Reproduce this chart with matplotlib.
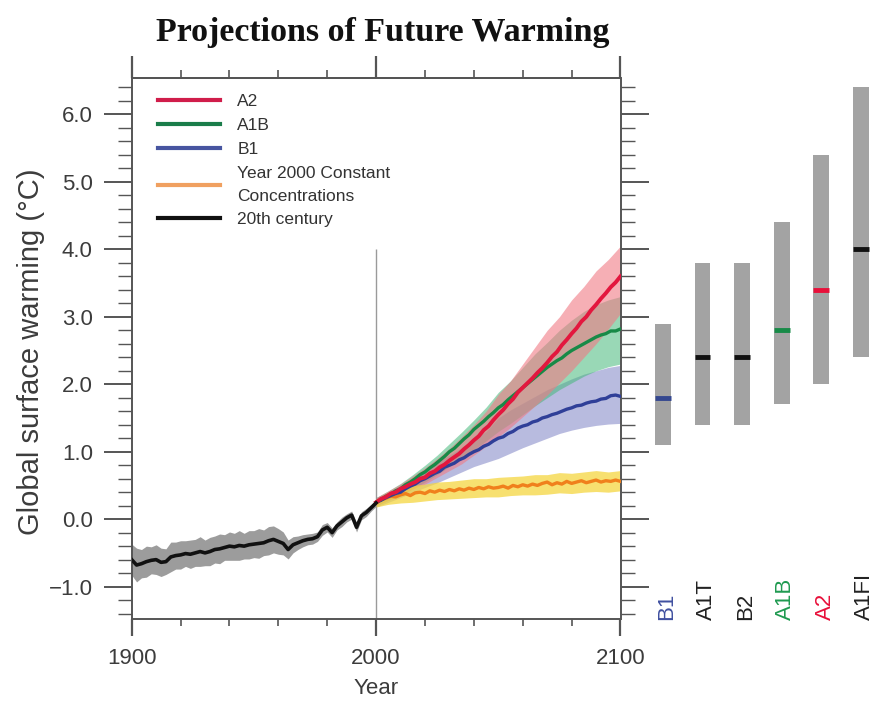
import numpy as np
import matplotlib
matplotlib.use("Agg")
import matplotlib.pyplot as plt
from matplotlib.lines import Line2D
from matplotlib.ticker import MultipleLocator, FuncFormatter

plt.rcParams['font.family'] = ['Liberation Sans', 'DejaVu Sans']

# ---------------- data ----------------
hist_years = list(range(1900, 2001, 2))
hist_mean = [-0.60, -0.68, -0.66, -0.63, -0.61, -0.60, -0.64, -0.63, -0.56, -0.54,
             -0.53, -0.51, -0.52, -0.50, -0.48, -0.50, -0.48, -0.45, -0.44, -0.42,
             -0.40, -0.41, -0.39, -0.40, -0.38, -0.37, -0.36, -0.35, -0.32, -0.30,
             -0.33, -0.36, -0.45, -0.38, -0.35, -0.32, -0.30, -0.29, -0.26, -0.16,
             -0.12, -0.20, -0.10, -0.04, 0.02, 0.06, -0.12, 0.05, 0.10, 0.17, 0.24]
hist_spread = [0.23, 0.25, 0.21, 0.23, 0.20, 0.22, 0.21, 0.19, 0.22, 0.20,
               0.21, 0.19, 0.21, 0.20, 0.22, 0.19, 0.21, 0.20, 0.22, 0.19,
               0.21, 0.20, 0.22, 0.19, 0.21, 0.20, 0.22, 0.19, 0.21, 0.20,
               0.19, 0.17, 0.14, 0.12, 0.10, 0.09, 0.08, 0.08, 0.07, 0.08,
               0.07, 0.07, 0.06, 0.07, 0.06, 0.06, 0.07, 0.06, 0.06, 0.05, 0.05]

fut_years = list(range(2000, 2101, 2))
a2_mean = [0.25, 0.30, 0.33, 0.38, 0.40, 0.45, 0.48, 0.52, 0.55, 0.60,
           0.62, 0.68, 0.71, 0.77, 0.81, 0.87, 0.92, 0.97, 1.04, 1.10,
           1.17, 1.23, 1.32, 1.38, 1.47, 1.55, 1.62, 1.71, 1.78, 1.88,
           1.95, 2.02, 2.09, 2.17, 2.24, 2.32, 2.41, 2.48, 2.58, 2.66,
           2.75, 2.83, 2.93, 3.00, 3.10, 3.18, 3.27, 3.35, 3.44, 3.51, 3.60]
a1b_mean = [0.25, 0.29, 0.34, 0.37, 0.42, 0.45, 0.51, 0.55, 0.60, 0.66,
            0.70, 0.76, 0.81, 0.87, 0.93, 1.00, 1.05, 1.12, 1.19, 1.25,
            1.33, 1.39, 1.45, 1.52, 1.58, 1.65, 1.70, 1.77, 1.83, 1.89,
            1.95, 2.01, 2.07, 2.13, 2.19, 2.25, 2.30, 2.35, 2.39, 2.45,
            2.50, 2.54, 2.58, 2.62, 2.66, 2.70, 2.73, 2.75, 2.79, 2.79, 2.82]
b1_mean = [0.25, 0.28, 0.32, 0.35, 0.38, 0.40, 0.45, 0.49, 0.52, 0.57,
           0.60, 0.64, 0.68, 0.71, 0.77, 0.80, 0.83, 0.88, 0.91, 0.96,
           1.00, 1.03, 1.08, 1.11, 1.16, 1.20, 1.22, 1.27, 1.30, 1.35,
           1.38, 1.40, 1.44, 1.46, 1.50, 1.52, 1.55, 1.57, 1.60, 1.63,
           1.65, 1.68, 1.69, 1.72, 1.74, 1.75, 1.78, 1.79, 1.83, 1.84, 1.82]
const_mean = [0.25, 0.29, 0.31, 0.34, 0.33, 0.36, 0.38, 0.35, 0.39, 0.40,
              0.38, 0.42, 0.40, 0.43, 0.41, 0.44, 0.42, 0.45, 0.43, 0.46,
              0.44, 0.47, 0.45, 0.48, 0.46, 0.47, 0.49, 0.46, 0.50, 0.48,
              0.51, 0.49, 0.52, 0.50, 0.53, 0.55, 0.51, 0.54, 0.52, 0.56,
              0.53, 0.55, 0.57, 0.54, 0.56, 0.58, 0.55, 0.57, 0.56, 0.58, 0.56]

band_years = list(range(2000, 2101, 5))
a2_lo = [0.20, 0.28, 0.35, 0.45, 0.52, 0.62, 0.72, 0.82, 0.95, 1.08, 1.22,
         1.36, 1.52, 1.68, 1.84, 2.02, 2.20, 2.40, 2.60, 2.82, 3.05]
a2_hi = [0.32, 0.42, 0.52, 0.64, 0.76, 0.90, 1.05, 1.22, 1.40, 1.60, 1.85,
         2.05, 2.30, 2.55, 2.80, 3.00, 3.25, 3.45, 3.68, 3.85, 4.05]
a1b_lo = [0.20, 0.28, 0.36, 0.45, 0.55, 0.66, 0.78, 0.90, 1.03, 1.16, 1.30,
          1.42, 1.55, 1.68, 1.80, 1.92, 2.02, 2.12, 2.20, 2.26, 2.30]
a1b_hi = [0.32, 0.42, 0.53, 0.66, 0.80, 0.95, 1.12, 1.29, 1.47, 1.66, 1.88,
          2.05, 2.25, 2.45, 2.62, 2.80, 2.95, 3.08, 3.18, 3.25, 3.30]
b1_lo = [0.18, 0.25, 0.32, 0.40, 0.47, 0.54, 0.62, 0.70, 0.78, 0.84, 0.90,
         0.98, 1.06, 1.13, 1.20, 1.27, 1.32, 1.36, 1.39, 1.41, 1.42]
b1_hi = [0.32, 0.40, 0.50, 0.60, 0.72, 0.84, 0.95, 1.06, 1.18, 1.30, 1.50,
         1.62, 1.72, 1.82, 1.92, 2.00, 2.08, 2.15, 2.20, 2.25, 2.28]
const_lo = [0.18, 0.22, 0.24, 0.25, 0.27, 0.29, 0.30, 0.31, 0.32, 0.33, 0.33,
            0.35, 0.36, 0.36, 0.37, 0.39, 0.38, 0.40, 0.41, 0.40, 0.42]
const_hi = [0.30, 0.40, 0.46, 0.50, 0.52, 0.55, 0.56, 0.58, 0.60, 0.60, 0.62,
            0.63, 0.64, 0.66, 0.66, 0.69, 0.68, 0.70, 0.72, 0.70, 0.72]

scenarios = ['B1', 'A1T', 'B2', 'A1B', 'A2', 'A1FI']
best_est = [1.8, 2.4, 2.4, 2.8, 3.4, 4.0]
likely_lo = [1.1, 1.4, 1.4, 1.7, 2.0, 2.4]
likely_hi = [2.9, 3.8, 3.8, 4.4, 5.4, 6.4]

legend_labels = ['A2', 'A1B', 'B1', 'Year 2000 Constant\nConcentrations', '20th century']

# ---------------- styles ----------------
c_red, c_green, c_blue, c_orange, c_black = '#e3173e', '#178a47', '#2f3f98', '#f0801c', '#111111'
f_red, f_green, f_blue, f_yellow = '#f07a85', '#45b97a', '#8a8ecb', '#f5d640'
scen_colors = ['#4050a0', '#222222', '#222222', '#1f9a50', '#e8103a', '#222222']
mark_colors = ['#34478f', '#111111', '#111111', '#178a47', '#e8103a', '#111111']
txt_col = '#3c3c3c'
spine_col = '#555555'

W, H = 874, 702
fig = plt.figure(figsize=(W / 100, H / 100), dpi=100)

ax_l, ax_r, ax_t, ax_b = 131.7, 620.5, 78, 619
ax = fig.add_axes([ax_l / W, 1 - ax_b / H, (ax_r - ax_l) / W, (ax_b - ax_t) / H])
ax.set_xlim(1900, 2100)
ax.set_ylim(-1.48, 6.54)

# historic band + line
hm = np.array(hist_mean)
hs = np.array(hist_spread)
ax.fill_between(hist_years, hm - hs, hm + hs, color='#9c9c9c', lw=0, zorder=1)

# future bands
ax.fill_between(band_years, b1_lo, b1_hi, color=f_blue, alpha=0.6, lw=0, zorder=2)
ax.fill_between(band_years, a1b_lo, a1b_hi, color=f_green, alpha=0.55, lw=0, zorder=2)
ax.fill_between(band_years, a2_lo, a2_hi, color=f_red, alpha=0.6, lw=0, zorder=2)
ax.fill_between(band_years, const_lo, const_hi, color=f_yellow, alpha=0.75, lw=0, zorder=2)

ax.vlines(2000, -1.48, 4.0, color='#9a9a9a', lw=1.0, zorder=1.5)

ax.plot(fut_years, const_mean, color=c_orange, lw=2.4, zorder=3)
ax.plot(fut_years, b1_mean, color=c_blue, lw=2.4, zorder=3)
ax.plot(fut_years, a1b_mean, color=c_green, lw=2.4, zorder=3)
ax.plot(fut_years, a2_mean, color=c_red, lw=2.8, zorder=4)
ax.plot(hist_years, hist_mean, color=c_black, lw=2.6, zorder=4)

# legend
handles = [Line2D([], [], color=c, lw=3) for c in ['#d01d4a', '#1a7d4a', '#4755a0', '#f0a060', '#111111']]
leg = ax.legend(handles, legend_labels, loc='upper left', bbox_to_anchor=(0.053, 0.970),
                frameon=False, fontsize=12.5, handlelength=3.6, handletextpad=1.0,
                labelspacing=0.5, borderpad=0, borderaxespad=0)
for t in leg.get_texts():
    t.set_color('#333333')
    t.set_linespacing(1.65)

# axes styling
for s in ax.spines.values():
    s.set_color(spine_col)
    s.set_linewidth(1.4)
ax.xaxis.set_major_locator(MultipleLocator(100))
ax.xaxis.set_minor_locator(MultipleLocator(20))
ax.set_yticks(np.arange(-1, 6.01, 1.0))
ax.yaxis.set_minor_locator(MultipleLocator(0.2))
ax.yaxis.set_major_formatter(FuncFormatter(lambda v, p: ('%.1f' % v).replace('-', '\u2212')))
ax.tick_params(axis='x', which='major', direction='out', length=12, width=1.6,
               color=spine_col, labelsize=16, labelcolor=txt_col, pad=9)
ax.tick_params(axis='x', which='minor', direction='out', length=5, width=1.2, color=spine_col)
ax.tick_params(axis='y', which='major', direction='out', length=20, width=1.4,
               color=spine_col, labelsize=16, labelcolor=txt_col, pad=8,
               left=True, right=True)
ax.tick_params(axis='y', which='minor', direction='out', length=10, width=1.0,
               color=spine_col, left=True, right=True)

sec = ax.secondary_xaxis('top')
sec.xaxis.set_major_locator(MultipleLocator(100))
sec.xaxis.set_minor_locator(MultipleLocator(20))
sec.tick_params(axis='x', which='major', direction='out', length=16, width=1.6,
                color=spine_col, labeltop=False)
sec.tick_params(axis='x', which='minor', direction='out', length=6, width=1.2, color=spine_col)
sec.spines['top'].set_color(spine_col)
sec.spines['top'].set_linewidth(1.4)
sec.set_xticklabels([])

ax.set_xlabel('Year', fontsize=16, color=txt_col, labelpad=6)
ax.set_ylabel('Global surface warming (\u00b0C)', fontsize=21, color=txt_col)
ax.yaxis.set_label_coords(-0.177, 0.494)

# right panel: likely ranges
ax2 = fig.add_axes([640 / W, 1 - ax_b / H, (W - 640) / W, (ax_b - ax_t) / H])
ax2.set_ylim(-1.48, 6.54)
ax2.set_xlim(-0.58, 5.33)
ax2.axis('off')
xpos = np.arange(len(scenarios))
ax2.bar(xpos, np.array(likely_hi) - np.array(likely_lo), bottom=likely_lo,
        width=0.40, color='#a3a3a3', lw=0)
for x, b, c in zip(xpos, best_est, mark_colors):
    ax2.hlines(b, x - 0.2, x + 0.2, color=c, lw=3.5)
for x, name, c in zip(xpos, scenarios, scen_colors):
    ax2.text(x + 0.1, -1.50, name, rotation=90, ha='center', va='bottom',
             fontsize=16, color=c)

fig.text(383 / W, 1 - 41 / H, 'Projections of Future Warming', ha='center', va='baseline',
         fontsize=24.5, fontweight='bold', family=['Liberation Serif', 'DejaVu Serif'],
         color='#111111')

fig.savefig('out.png', dpi=100)
